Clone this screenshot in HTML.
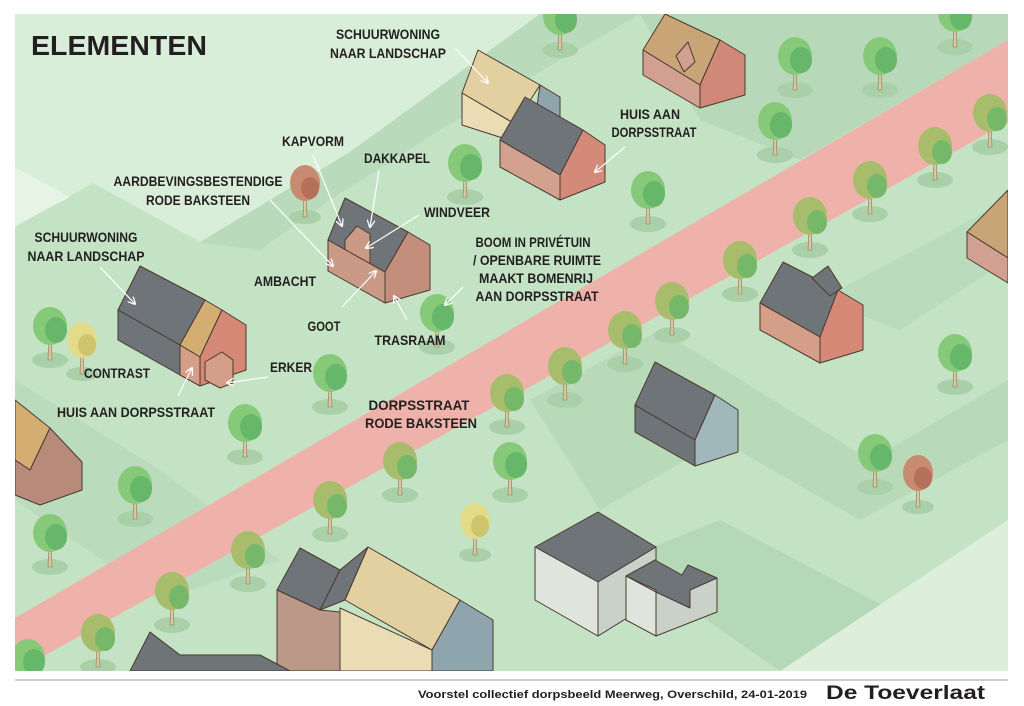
<!DOCTYPE html>
<html><head><meta charset="utf-8"><style>
html,body{margin:0;padding:0;background:#fff;width:1024px;height:706px;overflow:hidden}
svg{display:block}
.l{font-family:"Liberation Sans",sans-serif;font-weight:bold;font-size:14px;fill:#231f20;text-anchor:middle}
</style></head><body>
<svg width="1024" height="706" viewBox="0 0 1024 706" xmlns="http://www.w3.org/2000/svg">
<defs>
<marker id="ah" markerWidth="8" markerHeight="8" refX="7" refY="4" orient="auto" markerUnits="userSpaceOnUse"><path d="M0,0 L8,4 L0,8" fill="none" stroke="#fff" stroke-width="1.3"/></marker>
<symbol id="tg" overflow="visible"><ellipse cx="0" cy="2" rx="18" ry="8" fill="#a9d0a9"/><path d="M-2,2 L-1,-22 L1,-22 L2,2Z" fill="#d8c8a0" stroke="#8a7a5a" stroke-width="0.6"/><ellipse cx="0" cy="-32" rx="17" ry="19" fill="#86c978"/><ellipse cx="6" cy="-28" rx="11" ry="13" fill="#66b76a"/></symbol>
<symbol id="to" overflow="visible"><ellipse cx="0" cy="2" rx="18" ry="8" fill="#a9d0a9"/><path d="M-2,2 L-1,-22 L1,-22 L2,2Z" fill="#d8c8a0" stroke="#8a7a5a" stroke-width="0.6"/><ellipse cx="0" cy="-32" rx="17" ry="19" fill="#a7bd6c"/><ellipse cx="7" cy="-26" rx="10" ry="12" fill="#76b86a"/></symbol>
<symbol id="ty" overflow="visible"><ellipse cx="0" cy="2" rx="16" ry="7" fill="#a9d0a9"/><path d="M-2,2 L-1,-22 L1,-22 L2,2Z" fill="#d8c8a0" stroke="#8a7a5a" stroke-width="0.6"/><ellipse cx="0" cy="-32" rx="15" ry="18" fill="#e2dc8a"/><ellipse cx="5" cy="-27" rx="9" ry="11" fill="#cfc36e"/></symbol>
<symbol id="tr" overflow="visible"><ellipse cx="0" cy="2" rx="16" ry="7" fill="#a9d0a9"/><path d="M-2,2 L-1,-22 L1,-22 L2,2Z" fill="#d8c8a0" stroke="#8a7a5a" stroke-width="0.6"/><ellipse cx="0" cy="-32" rx="15" ry="18" fill="#c98a72"/><ellipse cx="5" cy="-27" rx="9" ry="11" fill="#b5705a"/></symbol>
</defs>
<rect x="15" y="14" width="993" height="657" fill="#c4e3c4"/>
<polygon points="15,14 540,14 350,152 200,242 93,183 15,227" fill="#d9eed8"/>
<polygon points="15,167 70,197 15,226" fill="#e6f3e5"/>
<polygon points="200,242 350,152 540,14 640,14 440,130 330,200 260,250" fill="#b9dbbb"/>
<polygon points="640,14 1008,14 1008,40 800,160 700,120" fill="#b7d9b9"/>
<polygon points="530,400 660,330 870,460 1008,380 1008,440 860,520 720,440 600,510" fill="#b8dab9"/>
<polygon points="620,560 720,520 1008,671 780,671" fill="#b5d8b7"/>
<polygon points="15,380 160,470 280,560 160,600 15,500" fill="#bbdcbc"/>
<polygon points="820,300 1008,200 1008,260 900,330" fill="#bbdcbc"/>
<polygon points="1008,520 1008,671 780,671" fill="#ddefdb"/>
<polygon points="15,618 1008,40 1008,122 15,672" fill="#efb2aa"/>
<g stroke="#4a3a30" stroke-width="1" stroke-linejoin="round">
<polygon points="478,50 540,85 515,124 462,93" fill="#e3d0a0"/>
<polygon points="462,93 515,124 515,142 462,125" fill="#eadcb4"/>
<polygon points="540,85 560,97 560,130 535,120" fill="#8fa5ae"/>
<polygon points="525,97 583,130 560,175 500,140" fill="#6f7478"/>
<polygon points="560,175 583,130 605,145 605,182 560,200" fill="#d38a78"/>
<polygon points="500,140 560,175 560,200 500,167" fill="#d2a28e"/>
<polygon points="665,14 720,40 700,85 643,50" fill="#c9a476"/>
<polygon points="700,85 720,40 745,55 745,95 700,108" fill="#d08878"/>
<polygon points="643,50 700,85 700,108 643,75" fill="#d2a090"/>
<polygon points="676,56 688,42 695,62 684,72" fill="#d2a090"/>
<polygon points="345,198 408,232 385,272 328,240" fill="#6f7478"/>
<polygon points="345,240 357,226 370,234 370,265 345,252" fill="#c99a86"/>
<polygon points="385,272 408,232 430,245 430,290 385,303" fill="#c38e7c"/>
<polygon points="328,240 385,272 385,303 328,271" fill="#c99a86"/>
<polygon points="140,266 205,300 180,345 118,310" fill="#6f7478"/>
<polygon points="205,300 222,310 200,357 180,345" fill="#d4ad72"/>
<polygon points="200,357 222,310 246,325 246,370 200,386" fill="#d58876"/>
<polygon points="118,310 180,345 180,375 118,340" fill="#6f7478"/>
<polygon points="180,345 200,357 200,386 180,375" fill="#d49e88"/>
<polygon points="205,362 222,352 233,360 233,383 220,388 205,380" fill="#d49e88"/>
<polygon points="15,400 50,428 30,470 15,460" fill="#d4ad72"/>
<polygon points="30,470 50,428 82,462 82,490 40,505 15,495 15,460" fill="#b88a7a"/>
<polygon points="783,262 838,290 820,337 760,303" fill="#6f7478"/>
<polygon points="812,278 828,266 842,288 830,296" fill="#6f7478"/>
<polygon points="820,337 838,290 863,305 863,350 820,363" fill="#d58876"/>
<polygon points="760,303 820,337 820,363 760,330" fill="#d49e88"/>
<polygon points="967,232 1008,190 1008,258" fill="#c9a476"/>
<polygon points="967,232 1008,258 1008,283 967,258" fill="#d2a090"/>
<polygon points="655,362 715,395 695,440 635,405" fill="#6f7478"/>
<polygon points="695,440 715,395 738,410 738,452 695,466" fill="#a0b8bb"/>
<polygon points="635,405 695,440 695,466 635,432" fill="#6f7478"/>
<polygon points="535,547 598,512 656,547 598,582" fill="#6f7478"/>
<polygon points="535,547 598,582 598,636 535,600" fill="#dfe5dd"/>
<polygon points="598,582 656,547 656,600 598,636" fill="#c9d1c8"/>
<polygon points="626,576 655,560 682,575 688,565 717,578 690,595 690,607 656,600 656,590" fill="#6f7478"/>
<polygon points="626,576 656,592 656,636 626,620" fill="#dfe5dd"/>
<polygon points="656,592 690,608 690,590 717,578 717,612 656,636" fill="#c9d1c8"/>
<polygon points="300,548 340,570 320,610 277,590" fill="#6f7478"/>
<polygon points="340,570 368,547 345,600 320,610" fill="#6f7478"/>
<polygon points="368,547 460,600 432,650 345,600" fill="#e3d0a0"/>
<polygon points="277,590 320,610 340,612 340,671 277,671" fill="#bc9888"/>
<polygon points="340,608 432,650 432,671 340,671" fill="#eadcb4"/>
<polygon points="432,650 460,600 493,620 493,671 432,671" fill="#8fa5ae"/>
<polygon points="130,671 150,632 180,655 260,655 290,671" fill="#6f7478"/>
</g>
<use href="#tg" x="560" y="48"/><use href="#tg" x="795" y="88"/><use href="#tg" x="880" y="88"/><use href="#tg" x="955" y="45"/>
<use href="#tg" x="775" y="153"/><use href="#to" x="990" y="145"/><use href="#to" x="935" y="178"/><use href="#tg" x="465" y="195"/>
<use href="#tr" x="305" y="215"/><use href="#tg" x="648" y="222"/><use href="#to" x="870" y="212"/><use href="#to" x="810" y="248"/>
<use href="#to" x="740" y="292"/><use href="#tg" x="437" y="345"/><use href="#to" x="672" y="333"/><use href="#to" x="625" y="362"/>
<use href="#to" x="565" y="398"/><use href="#to" x="507" y="425"/><use href="#tg" x="330" y="405"/><use href="#tg" x="50" y="358"/>
<use href="#ty" x="82" y="372"/><use href="#tg" x="245" y="455"/><use href="#tg" x="135" y="517"/><use href="#to" x="400" y="493"/>
<use href="#tg" x="510" y="493"/><use href="#tg" x="50" y="565"/><use href="#to" x="330" y="532"/><use href="#ty" x="475" y="553"/>
<use href="#tg" x="955" y="385"/><use href="#tg" x="875" y="485"/><use href="#tr" x="918" y="505"/><use href="#to" x="248" y="582"/>
<use href="#to" x="172" y="623"/><use href="#to" x="98" y="665"/><use href="#tg" x="28" y="690"/>
<rect x="0" y="671" width="1024" height="35" fill="#fff"/>
<rect x="0" y="0" width="1024" height="14" fill="#fff"/>
<rect x="0" y="0" width="15" height="706" fill="#fff"/>
<rect x="1008" y="0" width="16" height="706" fill="#fff"/>
<g stroke="#fff" stroke-width="1.2" fill="none" marker-end="url(#ah)">
<line x1="455" y1="48" x2="488" y2="83"/>
<line x1="625" y1="147" x2="595" y2="172"/>
<line x1="313" y1="155" x2="342" y2="226"/>
<line x1="379" y1="171" x2="370" y2="227"/>
<line x1="270" y1="200" x2="333" y2="266"/>
<line x1="419" y1="215" x2="366" y2="248"/>
<line x1="100" y1="267" x2="135" y2="304"/>
<line x1="463" y1="287" x2="445" y2="305"/>
<line x1="342" y1="307" x2="376" y2="271"/>
<line x1="407" y1="320" x2="394" y2="296"/>
<line x1="178" y1="396" x2="192" y2="368"/>
<line x1="268" y1="377" x2="227" y2="383"/>
</g>
<text x="31" y="55" style="font-family:'Liberation Sans',sans-serif;font-weight:bold;font-size:28px;fill:#231f20" textLength="176" lengthAdjust="spacingAndGlyphs">ELEMENTEN</text>
<g class="l">
<text x="388" y="39" textLength="104" lengthAdjust="spacingAndGlyphs">SCHUURWONING</text>
<text x="388" y="58" textLength="116" lengthAdjust="spacingAndGlyphs">NAAR LANDSCHAP</text>
<text x="313" y="146" textLength="62" lengthAdjust="spacingAndGlyphs">KAPVORM</text>
<text x="397" y="163" textLength="66" lengthAdjust="spacingAndGlyphs">DAKKAPEL</text>
<text x="198" y="186" textLength="169" lengthAdjust="spacingAndGlyphs">AARDBEVINGSBESTENDIGE</text>
<text x="198" y="205" textLength="104" lengthAdjust="spacingAndGlyphs">RODE BAKSTEEN</text>
<text x="457" y="217" textLength="66" lengthAdjust="spacingAndGlyphs">WINDVEER</text>
<text x="86" y="242" textLength="103" lengthAdjust="spacingAndGlyphs">SCHUURWONING</text>
<text x="86" y="261" textLength="117" lengthAdjust="spacingAndGlyphs">NAAR LANDSCHAP</text>
<text x="533" y="247" textLength="115" lengthAdjust="spacingAndGlyphs">BOOM IN PRIVÉTUIN</text>
<text x="537" y="265" textLength="128" lengthAdjust="spacingAndGlyphs">/ OPENBARE RUIMTE</text>
<text x="536" y="283" textLength="114" lengthAdjust="spacingAndGlyphs">MAAKT BOMENRIJ</text>
<text x="537" y="301" textLength="123" lengthAdjust="spacingAndGlyphs">AAN DORPSSTRAAT</text>
<text x="285" y="286" textLength="62" lengthAdjust="spacingAndGlyphs">AMBACHT</text>
<text x="324" y="331" textLength="33" lengthAdjust="spacingAndGlyphs">GOOT</text>
<text x="410" y="345" textLength="71" lengthAdjust="spacingAndGlyphs">TRASRAAM</text>
<text x="650" y="119" textLength="60" lengthAdjust="spacingAndGlyphs">HUIS AAN</text>
<text x="654" y="137" textLength="85" lengthAdjust="spacingAndGlyphs">DORPSSTRAAT</text>
<text x="117" y="378" textLength="66" lengthAdjust="spacingAndGlyphs">CONTRAST</text>
<text x="291" y="372" textLength="42" lengthAdjust="spacingAndGlyphs">ERKER</text>
<text x="136" y="417" textLength="158" lengthAdjust="spacingAndGlyphs">HUIS AAN DORPSSTRAAT</text>
<text x="419" y="410" textLength="101" lengthAdjust="spacingAndGlyphs">DORPSSTRAAT</text>
<text x="421" y="428" textLength="112" lengthAdjust="spacingAndGlyphs">RODE BAKSTEEN</text>
</g>
<line x1="15" y1="680" x2="1008" y2="680" stroke="#bbb" stroke-width="1.5"/>
<text x="418" y="698" style="font-family:'Liberation Sans',sans-serif;font-weight:bold;font-size:11px;fill:#231f20" textLength="389" lengthAdjust="spacingAndGlyphs">Voorstel collectief dorpsbeeld Meerweg, Overschild, 24-01-2019</text>
<text x="826" y="699" style="font-family:'Liberation Sans',sans-serif;font-weight:bold;font-size:19px;fill:#231f20" textLength="159" lengthAdjust="spacingAndGlyphs">De Toeverlaat</text>
</svg>
</body></html>
